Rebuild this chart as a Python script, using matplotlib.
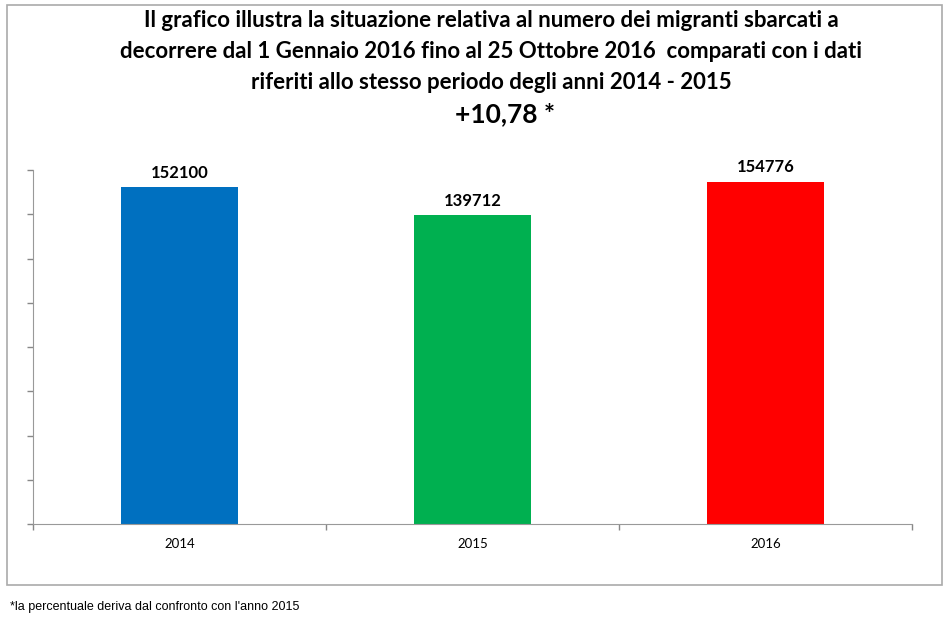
import matplotlib.pyplot as plt
from matplotlib.patches import Rectangle

# dati
anni = ['2014', '2015', '2016']
sbarcati = [152100, 139712, 154776]
colori = ['#0070C0', '#00B050', '#FF0000']

titolo = ("Il grafico illustra la situazione relativa al numero dei migranti sbarcati a\n"
          "decorrere dal 1 Gennaio 2016 fino al 25 Ottobre 2016  comparati con i dati\n"
          "riferiti allo stesso periodo degli anni 2014 - 2015")
variazione = "+10,78 *"
nota = "*la percentuale deriva dal confronto con l'anno 2015"

fig = plt.figure(figsize=(9.5, 6.24), dpi=100)
ax = fig.add_axes([33 / 950, 100 / 624, 879 / 950, 354 / 624])

x = range(len(anni))
bars = ax.bar(x, sbarcati, width=0.40, color=colori, zorder=2)
for b, v in zip(bars, sbarcati):
    ax.text(b.get_x() + b.get_width() / 2, v + 2800, str(v),
            ha='center', va='bottom', fontsize=12, fontweight='bold',
            family='Lato')

ax.set_xlim(-0.5, 2.5)
ax.set_ylim(0, 160000)
ax.set_yticks(range(0, 160001, 20000))
ax.set_yticklabels([])
ax.set_xticks([-0.5, 0.5, 1.5, 2.5])
ax.set_xticklabels([])
ax.set_xticks(list(x), minor=True)
ax.set_xticklabels(anni, minor=True, fontsize=9.5, family='Lato')
ax.tick_params(axis='x', which='minor', length=0, pad=10)
ax.tick_params(axis='both', which='major', length=4, color='#888888', width=1)
for s in ['top', 'right']:
    ax.spines[s].set_visible(False)
for s in ['left', 'bottom']:
    ax.spines[s].set_color('#999999')

# cornice del grafico
fig.patches.append(Rectangle((7 / 950, 39 / 624), 935 / 950, 580 / 624,
                             transform=fig.transFigure, fill=False,
                             edgecolor='#aaaaaa', lw=1.2))

fig.text(491 / 950, 1 - 10 / 624, titolo, ha='center', va='top',
         fontsize=16, fontweight='bold', family='Lato', linespacing=1.6)
fig.text(505 / 950, 1 - 114 / 624, variazione, ha='center', va='center',
         fontsize=19, fontweight='bold', family='Lato')
fig.text(10 / 950, 1 - 607 / 624, nota, ha='left', va='center',
         fontsize=9, family='Liberation Sans')

fig.savefig('out.png', dpi=100)
